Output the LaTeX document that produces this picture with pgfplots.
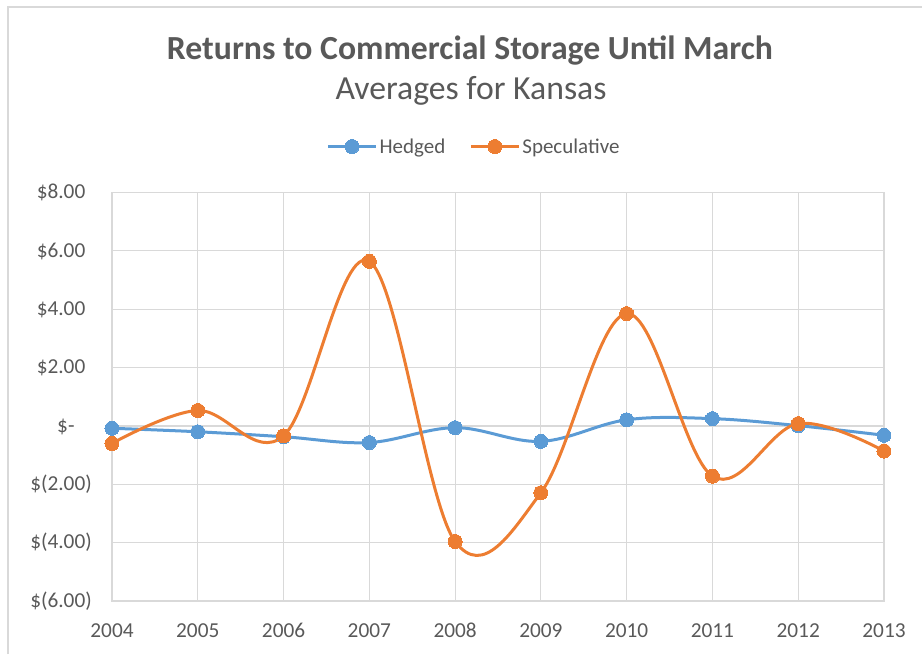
\documentclass[border=0pt]{standalone}
\usepackage{pgfplots}
\pgfplotsset{compat=1.18}
\usepackage{fontspec}
\setmainfont{Carlito}
\definecolor{hblue}{HTML}{5B9BD5}
\definecolor{sorange}{HTML}{ED7D31}
\definecolor{txtgray}{HTML}{595959}
\definecolor{gridgray}{HTML}{D9D9D9}
\begin{document}
\begin{tikzpicture}
\useasboundingbox (0pt,0pt) rectangle (922pt,654pt);
\draw[gridgray, line width=2pt] (8pt,0pt) -- (8pt,647pt) -- (922pt,647pt);
\node[anchor=base, text=txtgray, font=\fontsize{33.7}{38}\selectfont\bfseries, inner sep=0] at (470pt,594.7pt) {Returns to Commercial Storage Until March};
\node[anchor=base, text=txtgray, font=\fontsize{33.7}{38}\selectfont, inner sep=0] at (471pt,554.7pt) {Averages for Kansas};
\begin{axis}[
  at={(112pt,53pt)}, anchor=south west,
  scale only axis, width=772pt, height=408.5pt,
  xmin=2004, xmax=2013, ymin=-6, ymax=8,
  xtick={2004,2005,2006,2007,2008,2009,2010,2011,2012,2013},
  xticklabels={2004,2005,2006,2007,2008,2009,2010,2011,2012,2013},
  ytick={-6,-4,-2,0,2,4,6,8},
  yticklabels={{\$(6.00)},{\$(4.00)},{\$(2.00)},{\$-\phantom{0)}},{\$2.00\phantom{)}},{\$4.00\phantom{)}},{\$6.00\phantom{)}},{\$8.00\phantom{)}}},
  grid=major,
  grid style={gridgray, line width=1.2pt},
  axis line style={gridgray, line width=1.2pt},
  major tick length=0pt,
  tick label style={font=\fontsize{21.3}{24}\selectfont, text=txtgray, inner sep=0pt},
  yticklabel style={anchor=east, xshift=-20pt},
  xticklabel style={anchor=base, yshift=-36pt},
  clip=false,
  legend style={at={(axis description cs:0.469,1.1126)}, anchor=center, draw=none, fill=none,
    font=\fontsize{21}{24}\selectfont, text=txtgray, legend columns=2,
    /tikz/every even column/.append style={column sep=22pt},
    inner sep=0pt},
  legend cell align=left,
  legend image code/.code={\draw[#1, mark repeat=2, mark phase=2] plot coordinates {(0pt,0pt)(24pt,0pt)(48pt,0pt)};},
]
\addplot[hblue, line width=3pt, smooth, tension=0.6, mark=*, mark size=7pt, mark options={solid, fill=hblue, draw=hblue, line width=0pt}] coordinates {
(2004,-0.08) (2005,-0.2) (2006,-0.37) (2007,-0.57) (2008,-0.06) (2009,-0.53) (2010,0.21) (2011,0.25) (2012,0.01) (2013,-0.32)};
\addlegendentry{Hedged}
\addplot[sorange, line width=3pt, smooth, tension=0.6, mark=*, mark size=7pt, mark options={solid, fill=sorange, draw=sorange, line width=0pt}] coordinates {
(2004,-0.6) (2005,0.53) (2006,-0.34) (2007,5.64) (2008,-3.96) (2009,-2.29) (2010,3.85) (2011,-1.72) (2012,0.08) (2013,-0.86)};
\addlegendentry{Speculative}
\end{axis}
\end{tikzpicture}
\end{document}
